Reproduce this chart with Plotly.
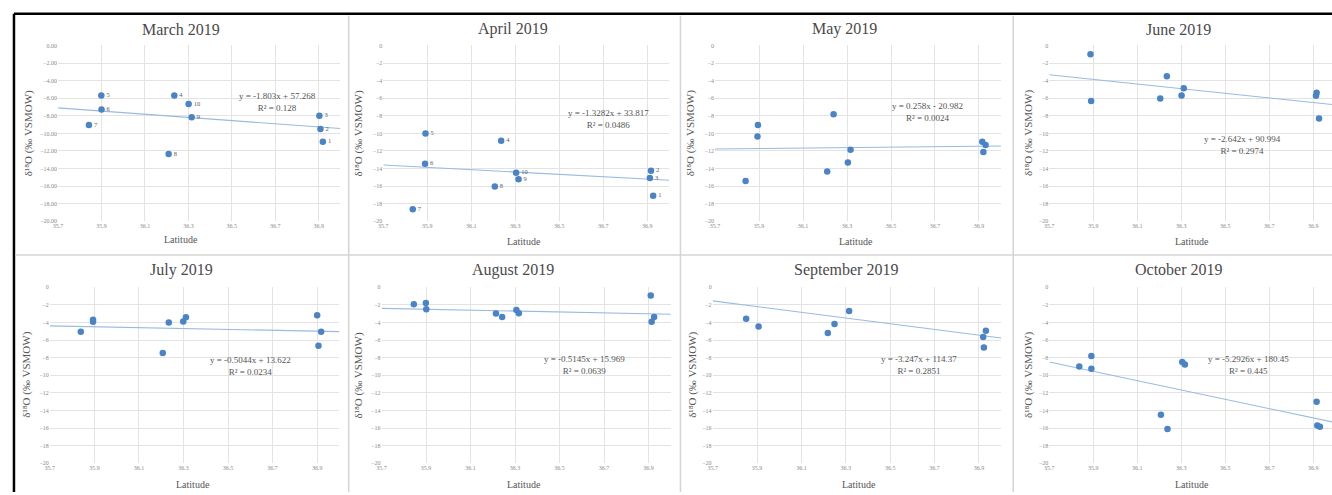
import plotly.graph_objects as go

# ---------------- data ----------------
months = ["March 2019", "April 2019", "May 2019", "June 2019",
          "July 2019", "August 2019", "September 2019", "October 2019"]

march_lat = [35.899, 35.900, 35.842, 36.235, 36.301, 36.315, 36.209, 36.903, 36.908, 36.919]
march_d18o = [-5.68, -7.29, -9.05, -5.68, -6.65, -8.15, -12.34, -8.00, -9.50, -10.95]
march_site = ["5", "6", "7", "4", "10", "9", "8", "3", "2", "1"]

april_lat = [35.892, 36.236, 35.890, 36.304, 36.315, 36.207, 35.834, 36.917, 36.912, 36.927]
april_d18o = [-10.02, -10.84, -13.46, -14.47, -15.21, -16.04, -18.62, -14.24, -15.07, -17.08]
april_site = ["5", "4", "6", "10", "9", "8", "7", "2", "3", "1"]

may_lat = [35.895, 35.893, 35.839, 36.239, 36.210, 36.304, 36.316, 36.915, 36.930, 36.920]
may_d18o = [-9.05, -10.36, -15.40, -7.81, -14.32, -13.31, -11.85, -10.95, -11.33, -12.11]

june_lat = [35.887, 35.890, 36.234, 36.204, 36.301, 36.311, 36.915, 36.912, 36.926]
june_d18o = [-1.01, -6.32, -3.51, -6.02, -5.68, -4.86, -5.39, -5.73, -8.31]

july_lat = [35.839, 35.894, 35.894, 36.234, 36.207, 36.299, 36.311, 36.900, 36.918, 36.906]
july_d18o = [-5.05, -3.70, -3.93, -4.00, -7.48, -3.89, -3.40, -3.18, -5.05, -6.65]

august_lat = [35.845, 35.899, 35.901, 36.214, 36.242, 36.306, 36.317, 36.910, 36.925, 36.914]
august_d18o = [-1.94, -1.79, -2.50, -2.98, -3.37, -2.58, -2.95, -0.93, -3.37, -3.93]

september_lat = [35.851, 35.907, 36.219, 36.249, 36.315, 36.931, 36.919, 36.922]
september_d18o = [-3.59, -4.45, -5.20, -4.19, -2.69, -4.93, -5.64, -6.84]

october_lat = [35.836, 35.891, 35.891, 36.207, 36.237, 36.304, 36.316, 36.915, 36.918, 36.930]
october_d18o = [-9.01, -7.81, -9.27, -14.47, -16.11, -8.49, -8.79, -13.01, -15.70, -15.85]

trend_slope = [-1.803, -1.3282, 0.258, -2.642, -0.5044, -0.5145, -3.247, -5.2926]
trend_intercept = [57.268, 33.817, -20.982, 90.994, 13.622, 15.969, 114.37, 180.45]
trend_r2 = ["0.128", "0.0486", "0.0024", "0.2974", "0.0234", "0.0639", "0.2851", "0.445"]

x_ticks = [35.7, 35.9, 36.1, 36.3, 36.5, 36.7, 36.9]
y_ticks = [0, -2, -4, -6, -8, -10, -12, -14, -16, -18, -20]

y_title = "δ¹⁸O (‰ VSMOW)"
x_title = "Latitude"

lats = [march_lat, april_lat, may_lat, june_lat, july_lat, august_lat, september_lat, october_lat]
vals = [march_d18o, april_d18o, may_d18o, june_d18o, july_d18o, august_d18o, september_d18o, october_d18o]
sites = [march_site, april_site, None, None, None, None, None, None]

# ---------------- layout geometry (pixels) ----------------
W, H = 1332, 495
FONT = "Liberation Serif"
MARKER = "#4a84c6"
TREND = "#98bbe0"

# (left px of 35.7, px per degree, top px (0), bottom px (-20))
geo = [
    (53.3, 218.0, 43, 221), (379.7, 220.8, 43, 221),
    (712.7, 220.8, 43, 221), (1048.3, 220.8, 43, 221),
    (45.0, 223.6, 287.7, 466), (378.0, 223.3, 287.7, 466),
    (710.3, 222.8, 287.7, 466), (1048.3, 220.8, 287.7, 466),
]
title_pos = [(176.7, 26.7), (509.7, 26.7), (842.7, 26.7), (1178, 26.7),
             (176.7, 270), (509.7, 270), (844, 270), (1178, 270)]
xlab_pos = [(176.7, 239.3), (521, 241.7), (854, 241.7), (1191.7, 241.7),
            (188.3, 487.3), (521.3, 487.3), (857.7, 487.3), (1191.7, 487.3)]
ylab_pos = [(23.3, 131.7), (354.7, 131.7), (687.7, 131.7), (1026.7, 131.7),
            (21.7, 376.7), (354.7, 376.7), (689.3, 376.7), (1026.7, 376.7)]
eq_pos = [(36.708, -6.4), (36.725, -8.31), (36.666, -7.53), (36.576, -11.35),
          (36.602, -8.9), (36.61, -8.82), (36.631, -8.82), (36.606, -8.82)]


def px(x):
    return x / W


def py(y):
    return 1 - y / H


fig = go.Figure()
annotations = []
layout_axes = {}

for i in range(8):
    n = "" if i == 0 else str(i + 1)
    xa, ya = "x" + n, "y" + n
    left, ppu, top, bot = geo[i]
    xmax = min(37.0, 35.7 + (W - left) / ppu)
    right = left + (xmax - 35.7) * ppu

    layout_axes["xaxis" + n] = dict(
        domain=[px(left), min(1.0, px(right))], anchor=ya,
        range=[35.7, xmax], tickvals=x_ticks, tickformat=".1f",
        showgrid=True, gridcolor="#e3e3e3", gridwidth=1,
        zeroline=False, showline=False, ticks="",
        tickfont=dict(family=FONT, size=6, color="#8a8a8a"),
        fixedrange=True,
    )
    layout_axes["yaxis" + n] = dict(
        domain=[py(bot), py(top)], anchor=xa,
        range=[-20, 0], tickvals=y_ticks,
        tickformat=".2f" if i == 0 else "d",
        showgrid=True, gridcolor="#e3e3e3", gridwidth=1,
        zeroline=False, showline=False, ticks="",
        tickfont=dict(family=FONT, size=6, color="#8a8a8a"),
        fixedrange=True,
    )

    # trendline from the regression equation
    tx = [35.7, xmax]
    ty = [trend_slope[i] * x + trend_intercept[i] for x in tx]
    fig.add_trace(go.Scatter(x=tx, y=ty, mode="lines", xaxis=xa, yaxis=ya,
                             line=dict(color=TREND, width=1.1),
                             hoverinfo="skip", showlegend=False))

    if sites[i] is not None:
        fig.add_trace(go.Scatter(x=lats[i], y=vals[i], mode="markers+text",
                                 text=sites[i], textposition="middle right",
                                 textfont=dict(family=FONT, size=6.5, color="#606060"),
                                 xaxis=xa, yaxis=ya,
                                 marker=dict(color=MARKER, size=6.5),
                                 showlegend=False, cliponaxis=False))
    else:
        fig.add_trace(go.Scatter(x=lats[i], y=vals[i], mode="markers",
                                 xaxis=xa, yaxis=ya,
                                 marker=dict(color=MARKER, size=6.5),
                                 showlegend=False, cliponaxis=False))

    s = trend_slope[i]
    b = trend_intercept[i]
    eq = f"y = {s}x {'+' if b >= 0 else '-'} {abs(b)}<br>R² = {trend_r2[i]}"
    annotations.append(dict(x=eq_pos[i][0], y=eq_pos[i][1], xref=xa, yref=ya,
                            text=eq, showarrow=False, align="center",
                            font=dict(family=FONT, size=9, color="#555555")))

    annotations.append(dict(x=px(title_pos[i][0]), y=py(title_pos[i][1]),
                            xref="paper", yref="paper", text=months[i],
                            showarrow=False, xanchor="center", yanchor="middle",
                            font=dict(family=FONT, size=16, color="#4a4a4a")))
    annotations.append(dict(x=px(xlab_pos[i][0]), y=py(xlab_pos[i][1]),
                            xref="paper", yref="paper", text=x_title,
                            showarrow=False, xanchor="center", yanchor="middle",
                            font=dict(family=FONT, size=10, color="#555555")))
    annotations.append(dict(x=px(ylab_pos[i][0]), y=py(ylab_pos[i][1]),
                            xref="paper", yref="paper",
                            text=y_title, textangle=-90,
                            showarrow=False, xanchor="center", yanchor="middle",
                            font=dict(family=FONT, size=11, color="#555555")))

shapes = [
    dict(type="line", xref="paper", yref="paper", x0=px(9), x1=1.0, y0=py(11), y1=py(11),
         line=dict(color="black", width=2.5)),
    dict(type="line", xref="paper", yref="paper", x0=px(9), x1=px(9), y0=py(11), y1=0,
         line=dict(color="black", width=2.5)),
    dict(type="line", xref="paper", yref="paper", x0=px(10), x1=1.0, y0=py(255), y1=py(255),
         line=dict(color="#d4d4d4", width=1.5)),
]
for cx in (345, 678, 1012):
    shapes.append(dict(type="line", xref="paper", yref="paper", x0=px(cx), x1=px(cx),
                       y0=py(13), y1=0, line=dict(color="#d4d4d4", width=1.5)))

fig.update_layout(
    width=W, height=H,
    margin=dict(l=0, r=0, t=0, b=0),
    paper_bgcolor="white", plot_bgcolor="white",
    showlegend=False,
    annotations=annotations, shapes=shapes,
    **layout_axes,
)

fig.write_html(
    "out.html",
    config={"displayModeBar": False, "staticPlot": True},
    post_script="document.body.style.margin='0';document.body.style.padding='0';"
                "document.body.style.overflow='hidden';",
)
